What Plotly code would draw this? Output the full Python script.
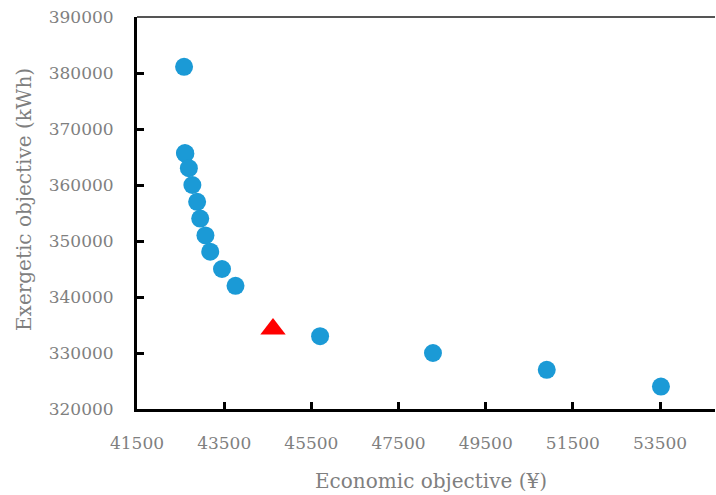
import plotly.graph_objects as go

econ = [42580, 42600, 42610, 42690, 42770, 42880, 42950, 43070, 43180, 43450, 43760, 45700, 48290, 50900, 53520]
exer = [381100, 365700, 365600, 363000, 360000, 357000, 354000, 351000, 348100, 345000, 342000, 333000, 330000, 327000, 324000]
sel_econ = [44620]
sel_exer = [334300]

x_ticks = [41500, 43500, 45500, 47500, 49500, 51500, 53500]
y_ticks = [320000, 330000, 340000, 350000, 360000, 370000, 380000, 390000]

x_title = "Economic objective (¥)"
y_title = "Exergetic objective (kWh)"

font_fam = "DejaVu Serif, Liberation Serif, serif"
gray = "#7f7f7f"

W, H = 716, 495
L, R, T, B = 137, 1, 17, 86
pw, ph = W - L - R, H - T - B

fig = go.Figure()
fig.add_trace(go.Scatter(x=econ, y=exer, mode="markers",
                         marker=dict(color="#1B9AD6", size=18, line=dict(width=0)),
                         showlegend=False, hoverinfo="x+y"))
fig.add_trace(go.Scatter(x=sel_econ, y=sel_exer, mode="markers",
                         marker=dict(color="#FF0000", symbol="triangle-up", size=22, line=dict(width=0)),
                         showlegend=False, hoverinfo="x+y"))

axis_common = dict(showgrid=False, zeroline=False, showline=True, linecolor="black", linewidth=3,
                   ticks="inside", ticklen=7, tickwidth=3, tickcolor="black",
                   tickfont=dict(size=17, color=gray, family=font_fam), automargin=False)

fig.update_layout(
    width=W, height=H,
    margin=dict(l=L, r=R, t=T, b=B),
    plot_bgcolor="white", paper_bgcolor="white",
    font=dict(family=font_fam, color=gray),
    xaxis=dict(range=[41500, 54760], tickvals=x_ticks, ticktext=[str(v) for v in x_ticks],
               ticklabelstandoff=17, **axis_common),
    yaxis=dict(range=[320000, 390000], tickvals=y_ticks, ticktext=[str(v) for v in y_ticks],
               ticklabelstandoff=17, **axis_common),
    shapes=[dict(type="line", xref="paper", yref="paper", x0=0, x1=1, y0=1, y1=1,
                 line=dict(color="#555555", width=2))],
    annotations=[
        dict(text=x_title, xref="paper", yref="paper", x=(431 - L) / pw, y=(H - B - 481) / ph,
             xanchor="center", yanchor="middle", showarrow=False,
             font=dict(size=20, color=gray, family=font_fam)),
        dict(text=y_title, xref="paper", yref="paper", x=(24 - L) / pw, y=(H - B - 200) / ph,
             xanchor="center", yanchor="middle", showarrow=False, textangle=-90,
             font=dict(size=20, color=gray, family=font_fam)),
    ],
)

fig.write_html("out.html", config={"displayModeBar": False},
               post_script="document.body.style.margin='0';document.body.style.overflow='hidden';")
